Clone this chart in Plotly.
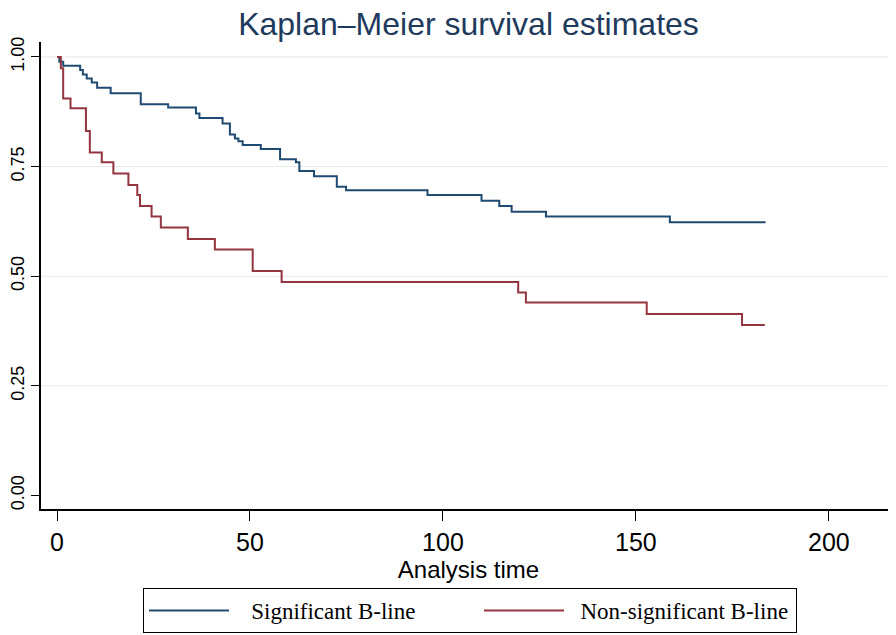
import plotly.graph_objects as go

# Kaplan-Meier step data
sig_time = [0, 0.6, 1.6, 6.0, 6.7, 7.7, 9.0, 10.4, 13.9, 21.7, 28.8, 36.0, 36.9,
            42.9, 44.8, 46.1, 47.0, 48.1, 52.8, 57.8, 61.9, 62.8, 66.6, 72.5,
            74.9, 96.0, 110.0, 114.6, 117.8, 126.7, 158.8, 183.6]
sig_surv = [1.0, 0.989, 0.980, 0.970, 0.960, 0.951, 0.942, 0.930, 0.917, 0.892,
            0.885, 0.871, 0.861, 0.848, 0.823, 0.814, 0.808, 0.799, 0.790, 0.767,
            0.760, 0.740, 0.728, 0.704, 0.696, 0.685, 0.672, 0.660, 0.647, 0.636,
            0.623, 0.623]

nonsig_time = [0, 1.0, 1.6, 3.5, 7.5, 8.5, 11.6, 14.6, 18.5, 20.8, 21.5, 24.5,
               26.9, 33.9, 40.9, 50.7, 58.2, 119.5, 121.5, 152.8, 177.5, 183.4]
nonsig_surv = [1.0, 0.974, 0.905, 0.883, 0.831, 0.782, 0.760, 0.734, 0.708,
               0.685, 0.660, 0.636, 0.611, 0.585, 0.561, 0.512, 0.487, 0.463,
               0.440, 0.414, 0.389, 0.389]

x_ticks = [0, 50, 100, 150, 200]
y_ticks = [0, 0.25, 0.5, 0.75, 1.0]
y_ticklabels = ["0.00", "0.25", "0.50", "0.75", "1.00"]
grid_values = [0.25, 0.5, 0.75, 1.0]

series_names = ["Significant B-line", "Non-significant B-line"]
series_colors = ["#1f4a72", "#93353f"]

# The page body adds an 8px margin, so the figure is sized to fit the window.
W, H = 888, 627

fig = go.Figure()
fig.add_trace(go.Scatter(x=sig_time, y=sig_surv, mode="lines", line_shape="hv",
                         name="\u00a0\u00a0\u00a0" + series_names[0], legendwidth=240,
                         line=dict(color=series_colors[0], width=2)))
fig.add_trace(go.Scatter(x=nonsig_time, y=nonsig_surv, mode="lines", line_shape="hv",
                         name="\u00a0\u00a0" + series_names[1], legendwidth=222,
                         line=dict(color=series_colors[1], width=2)))

shapes = [dict(type="line", xref="paper", x0=0, x1=1, yref="y", y0=g, y1=g,
               line=dict(color="#e8e8e8", width=1), layer="below")
          for g in grid_values]

fig.update_layout(
    width=W, height=H,
    margin=dict(l=33, r=0, t=34, b=126, autoexpand=False),
    paper_bgcolor="white", plot_bgcolor="white",
    font=dict(family="Liberation Sans, Arial, sans-serif", color="black"),
    title=dict(text="Kaplan\u2013Meier survival estimates", x=0.5, xref="paper",
               y=1 - 16 / H, yref="container", yanchor="middle",
               font=dict(size=32, color="#1e3a5c")),
    shapes=shapes,
    xaxis=dict(range=[-4.15, 217.4], tickvals=x_ticks, ticks="outside", ticklen=10,
               tickcolor="black", tickwidth=1, showline=True, linecolor="black",
               linewidth=1.5, showgrid=False, zeroline=False,
               tickfont=dict(size=25, color="black"),
               title=dict(text="Analysis time", font=dict(size=24, color="black"),
                          standoff=2)),
    yaxis=dict(range=[-0.0308, 1.0341], tickvals=y_ticks, ticktext=y_ticklabels,
               tickangle=-90, ticks="outside", ticklen=8, tickcolor="black",
               tickwidth=1, showline=True, linecolor="black", linewidth=1.5,
               showgrid=False, zeroline=False,
               tickfont=dict(size=18, color="black")),
    legend=dict(orientation="h", x=135 / W, xanchor="left",
                y=1 - 580 / H, yanchor="top", xref="container", yref="container",
                bordercolor="black", borderwidth=1, bgcolor="white",
                itemwidth=80,
                font=dict(family="Liberation Serif, Times New Roman, serif",
                          size=23, color="black"),
                tracegroupgap=0, itemclick=False),
)

fig.write_html("out.html")
